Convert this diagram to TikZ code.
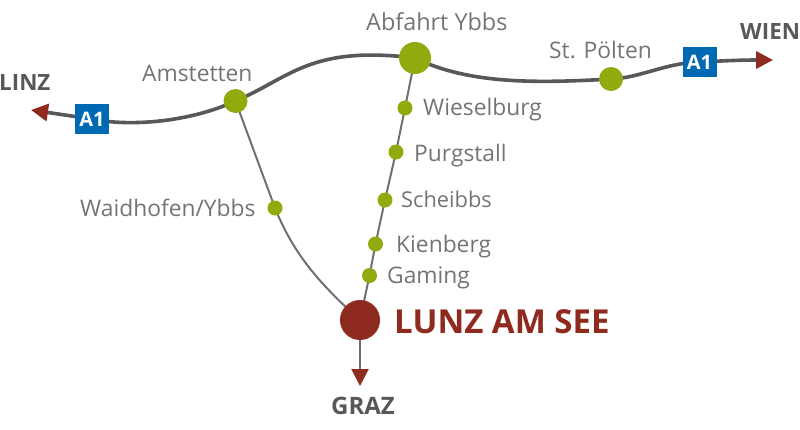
\documentclass[tikz,border=0pt]{standalone}
\usepackage{fontspec}
\setmainfont{Open Sans}
\usetikzlibrary{arrows.meta,backgrounds}
\definecolor{road}{HTML}{58585A}
\definecolor{sideroad}{HTML}{707071}
\definecolor{stop}{HTML}{8FAB0E}
\definecolor{lunz}{HTML}{8E2A1E}
\definecolor{aone}{HTML}{0069B3}
\definecolor{txt}{HTML}{747476}
\tikzset{
  stopdot/.style={circle,fill=stop,draw=none,inner sep=0pt,minimum size=#1},
  lab/.style={text=txt,font=\fontsize{22.8}{26}\selectfont,inner sep=0pt,anchor=base west},
  city/.style={text=road,font=\fontsize{22.4}{26}\selectfont\bfseries,inner sep=0pt,anchor=base west},
  aonebox/.style={fill=aone,text=white,font=\fontsize{20}{24}\selectfont\bfseries,inner sep=0pt,minimum width=34pt,minimum height=30pt},
  mainroad/.style={draw=road,line width=3.6pt},
  minorroad/.style={draw=sideroad,line width=2pt},
  tipped/.style={-{Triangle[length=17pt,width=17pt,color=lunz]}}
}
\begin{document}
\begin{tikzpicture}[x=1pt,y=-1pt]
\useasboundingbox (0,0) rectangle (800,429);
\coordinate (tl) at (31,110);
\coordinate (tr) at (773,60);
\coordinate (tg) at (360,386);
\node[aonebox] (al) at (92,119) {A1};
\node[aonebox] (ar) at (699.5,62) {A1};
\node[stopdot=24pt] (am) at (235.500,101) {};
\node[stopdot=32pt] (ab) at (415,58) {};
\node[stopdot=24pt] (sp) at (611,79) {};
\node[stopdot=15pt] (wa) at (275,208) {};
\node[stopdot=15pt] (wi) at (405,108) {};
\node[stopdot=15pt] (pu) at (396,152) {};
\node[stopdot=15pt] (sc) at (385,200) {};
\node[stopdot=15pt] (ki) at (375.500,244) {};
\node[stopdot=15pt] (ga) at (369.500,275.500) {};
\node[circle,fill=lunz,inner sep=0pt,minimum size=40pt] (lu) at (360,320) {};
\begin{scope}[on background layer]
\draw[mainroad,tipped] (al.center) -- (tl);
\draw[mainroad] (al.center) .. controls (130,127) and (190,122) .. (am.center);
\draw[mainroad] (am.center) .. controls (290,78) and (310,45) .. (ab.center);
\draw[mainroad] (ab.center) .. controls (470,85) and (540,83) .. (sp.center);
\draw[mainroad] (sp.center) .. controls (640,78) and (665,63) .. (ar.center);
\draw[mainroad,tipped] (ar.center) .. controls (720,61) and (740,60) .. (tr);
\draw[minorroad] (am.center) -- (wa.center);
\draw[minorroad] (wa.center) .. controls (292,250) and (315,280) .. (lu.center);
\draw[minorroad] (ab.center) -- (wi.center) -- (pu.center) -- (sc.center) -- (ki.center) -- (ga.center) -- (lu.center);
\draw[minorroad,tipped] (lu.center) -- (tg);
\end{scope}
\node[city] (linz) at (-1,90) {LINZ};
\node[city] (wien) at (740,39) {WIEN};
\node[city,font=\fontsize{24}{26}\selectfont\bfseries] (graz) at (331,414) {GRAZ};
\node[lab] (n1) at (142,81) {Amstetten};
\node[lab,font=\fontsize{23.4}{26}\selectfont] (n2) at (366,30) {Abfahrt Ybbs};
\node[lab] (n3) at (549,58) {St. Pölten};
\node[lab] (n4) at (80,216) {Waidhofen/Ybbs};
\node[lab] (n5) at (423,115) {Wieselburg};
\node[lab] (n6) at (414,161) {Purgstall};
\node[lab,font=\fontsize{21.8}{26}\selectfont] (n7) at (401,207) {Scheibbs};
\node[lab] (n8) at (396,252) {Kienberg};
\node[lab] (n9) at (387,283) {Gaming};
\node[text=lunz,font=\fontsize{33}{36}\selectfont\bfseries,inner sep=0pt,anchor=base west] (n10) at (394,333) {LUNZ AM SEE};
\end{tikzpicture}
\end{document}
